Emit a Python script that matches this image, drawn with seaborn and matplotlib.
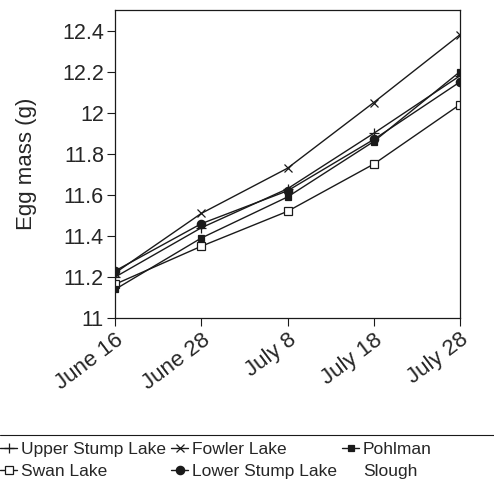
import matplotlib
matplotlib.use("Agg")
import matplotlib.pyplot as plt
from matplotlib.lines import Line2D
import seaborn as sns
import pandas as pd

dates = ["June 16", "June 28", "July 8", "July 18", "July 28"]
upper_stump = [11.20, 11.44, 11.63, 11.90, 12.18]
swan = [11.165, 11.35, 11.52, 11.75, 12.04]
fowler = [11.22, 11.51, 11.73, 12.05, 12.38]
lower_stump = [11.23, 11.46, 11.62, 11.87, 12.15]
pohlman = [11.14, 11.39, 11.59, 11.86, 12.20]

sns.set_theme(style="ticks")
plt.rcParams['font.family'] = ['Liberation Sans', 'DejaVu Sans']

fig = plt.figure(figsize=(4.94, 4.82), dpi=100)
ax = fig.add_axes([0.233, 0.340, 0.698, 0.639])

pos = list(range(len(dates)))
# legend fills column-wise: Upper, Swan | Fowler, Lower | Pohlman, Slough
series = [
    ("Upper Stump Lake", upper_stump, "+", "k", 7),
    ("Swan Lake", swan, "s", "white", 6),
    ("Fowler Lake", fowler, "x", "k", 6),
    ("Lower Stump Lake", lower_stump, "o", "k", 6),
    ("Pohlman", pohlman, "s", "k", 5),
]
for name, vals, mk, fc, ms in series:
    df = pd.DataFrame({"pos": pos, "mass": vals})
    sns.lineplot(data=df, x="pos", y="mass", ax=ax, color="k", lw=1.0,
                 marker=mk, markersize=ms, markerfacecolor=fc,
                 markeredgecolor="k", markeredgewidth=0.9, label=name)

ax.set_xlim(0, 4)
ax.set_ylim(11, 12.5)
ax.set_yticks([11, 11.2, 11.4, 11.6, 11.8, 12, 12.2, 12.4])
ax.set_yticklabels(["11", "11.2", "11.4", "11.6", "11.8", "12", "12.2", "12.4"])
ax.set_xticks(pos)
ax.set_xticklabels(dates, rotation=37, ha="right", rotation_mode="anchor",
                   fontsize=16)
ax.set_xlabel("")
ax.set_ylabel("Egg mass (g)", fontsize=16, labelpad=18)
ax.tick_params(axis="y", labelsize=15.5)
ax.tick_params(direction="out", length=6, width=0.8, color="k", pad=2)
for s in ax.spines.values():
    s.set_color("k")
    s.set_linewidth(0.9)

handles, labels = ax.get_legend_handles_labels()
ax.get_legend().remove()
handles.append(Line2D([], [], color="none"))
labels.append("Slough")
fig.legend(handles, labels, ncol=3, loc="upper left",
           bbox_to_anchor=(0.0, 0.083), frameon=False, fontsize=12.5,
           handlelength=1.0, handletextpad=0.2, columnspacing=0.3,
           labelspacing=0.4, borderaxespad=0.0, borderpad=0.0)

fig.add_artist(Line2D([0, 1], [1 - 435 / 482] * 2, color="k", lw=0.8,
                      transform=fig.transFigure))

fig.savefig("out.png", dpi=100)
